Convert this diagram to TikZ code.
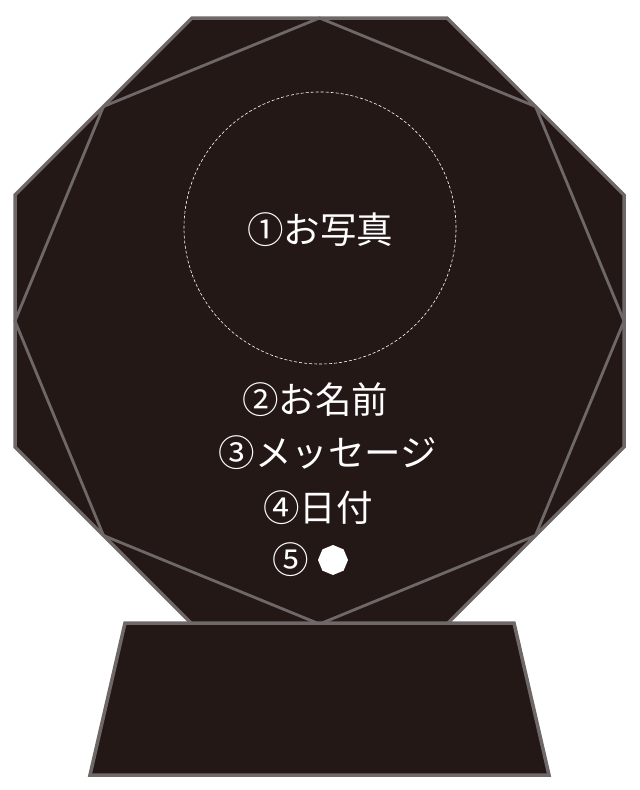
\documentclass[tikz,border=0pt]{standalone}
\usepackage{fontspec}
\newfontfamily\jpfont{Noto Sans CJK JP}
\usetikzlibrary{shapes.geometric,calc}
\definecolor{trophy}{HTML}{231815}
\definecolor{rim}{HTML}{6F6868}

\begin{document}
\begin{tikzpicture}[x=1pt,y=-1pt,
    plate/.style={fill=trophy, draw=rim, line width=3.5pt},
    facet/.style={draw=rim, line width=2.8pt},
    caption/.style={text=white, font=\jpfont\fontsize{36.5}{40}\selectfont, inner sep=0pt}]
	\useasboundingbox (0,0) rectangle (640,790);
	% octagon plate
	\coordinate (T1) at (192,18);
	\coordinate (T2) at (447,18);
	\coordinate (R1) at (624,195);
	\coordinate (R2) at (624,447);
	\coordinate (B2) at (447,624);
	\coordinate (B1) at (192,624);
	\coordinate (L2) at (15,447);
	\coordinate (L1) at (15,195);
	\draw[plate] (T1) -- (T2) -- (R1) -- (R2) -- (B2) -- (B1) -- (L2) -- (L1) -- cycle;
	\draw[facet] ($(T1)!.5!(T2)$) -- ($(T2)!.5!(R1)$) -- ($(R1)!.5!(R2)$) -- ($(R2)!.5!(B2)$)
		-- ($(B2)!.5!(B1)$) -- ($(B1)!.5!(L2)$) -- ($(L2)!.5!(L1)$) -- ($(L1)!.5!(T1)$) -- cycle;
	% photo area
	\draw[white, line width=0.6pt, dash pattern=on 3pt off 2pt] (320,228) circle (136pt);
	\node[caption] (photo) at (320,230) {①お写真};
	\node[caption] (name) at (315,400) {②お名前};
	\node[caption] (message) at (328,453) {③メッセージ};
	\node[caption] (date) at (318,508) {④日付};
	\node[caption] (logo) at (291,560) {⑤};
	\node[regular polygon, regular polygon sides=8, shape border rotate=22.5, fill=white, minimum size=30pt, inner sep=0pt] (dot) at (333,560) {};
	% stand
	\coordinate (S1) at (125,623);
	\coordinate (S2) at (514,623);
	\coordinate (S3) at (549,775);
	\coordinate (S4) at (90,775);
	\draw[plate] (S1) -- (S2) -- (S3) -- (S4) -- cycle;
\end{tikzpicture}
\end{document}
